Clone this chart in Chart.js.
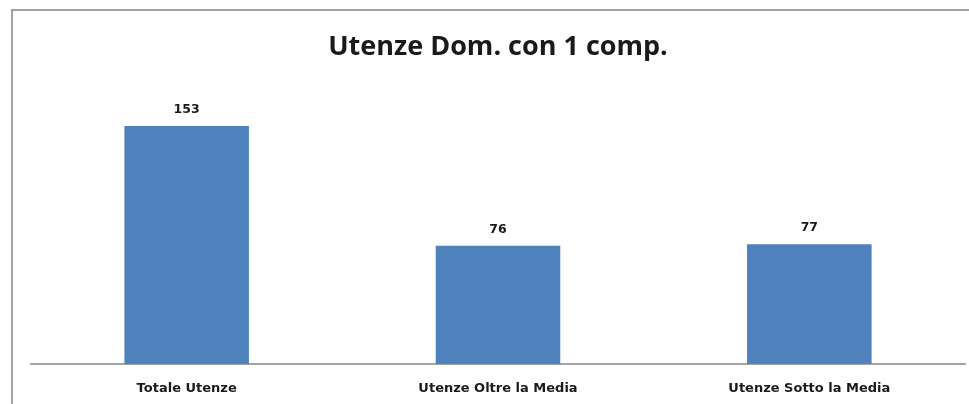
<!DOCTYPE html>
<html>
<head>
<meta charset="utf-8">
<script src="https://cdn.jsdelivr.net/npm/chart.js@4/dist/chart.umd.min.js"></script>
<style>
  html, body { margin: 0; padding: 0; background: #fff; overflow: hidden; }
  #frame { position: absolute; left: 11px; top: 9px; width: 1000px; height: 450px; border-left: 2px solid #a3a3a3; border-top: 2px solid #a3a3a3; }
  #wrap { position: absolute; left: 0; top: 0; width: 969px; height: 404px; }
</style>
</head>
<body>
<div id="frame"></div>
<div id="wrap"><canvas id="myBarChart"></canvas></div>
<script>
var categorie = ['Totale Utenze', 'Utenze Oltre la Media', 'Utenze Sotto la Media'];
var utenze = [153, 76, 77];
var titolo = 'Utenze Dom. con 1 comp.';

// scrive il valore sopra ogni barra
var valoriSopra = {
  id: 'valoriSopra',
  afterDatasetsDraw: function (chart) {
    var ctx = chart.ctx;
    var meta = chart.getDatasetMeta(0);
    ctx.save();
    ctx.font = 'bold 12.5px "DejaVu Sans"';
    ctx.fillStyle = '#1a1a1a';
    ctx.textAlign = 'center';
    ctx.textBaseline = 'middle';
    meta.data.forEach(function (bar, i) {
      ctx.fillText(chart.data.datasets[0].data[i], bar.x, bar.y - 16);
    });
    ctx.restore();
  }
};

var ctx = document.getElementById('myBarChart').getContext('2d');
var myChart = new Chart(ctx, {
  type: 'bar',
  data: {
    labels: categorie,
    datasets: [{
      label: titolo,
      data: utenze,
      backgroundColor: '#4f81bd',
      borderWidth: 0,
      categoryPercentage: 0.4,
      barPercentage: 1
    }]
  },
  options: {
    responsive: true,
    maintainAspectRatio: false,
    animation: false,
    layout: { padding: { left: 31, right: 4, top: 0, bottom: 0 } },
    plugins: {
      legend: { display: false },
      tooltip: { enabled: false },
      title: {
        display: true,
        text: titolo,
        color: '#1a1a1a',
        font: { family: '"Open Sans", sans-serif', size: 27, weight: 'bold' },
        padding: { top: 31, bottom: 20.6 }
      }
    },
    scales: {
      y: { display: false, min: 0, max: 180 },
      x: {
        grid: { display: false, drawTicks: false },
        border: { display: true, color: '#a3a3a3', width: 2 },
        ticks: {
          color: '#1a1a1a',
          padding: 17,
          font: { family: '"DejaVu Sans", sans-serif', size: 13, weight: 'bold' }
        },
        afterFit: function (scale) { scale.height = 40; }
      }
    }
  },
  plugins: [valoriSopra]
});
</script>
</body>
</html>
